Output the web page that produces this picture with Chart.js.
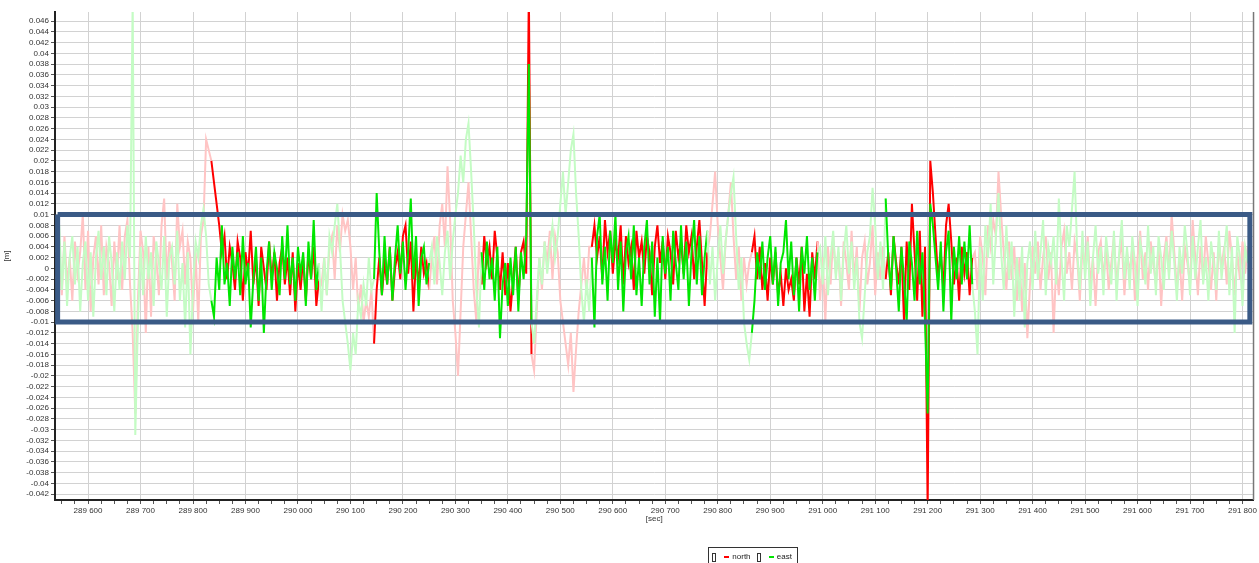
<!DOCTYPE html>
<html>
<head>
<meta charset="utf-8">
<title>north / east</title>
<script src="https://cdn.jsdelivr.net/npm/chart.js@4.4.1/dist/chart.umd.min.js"></script>
<style>
    html, body { margin: 0; padding: 0; background: #fff; }
    #wrap { position: relative; width: 1259px; height: 563px; overflow: hidden; }
    #legend {
        position: absolute; left: 708px; top: 547px; width: 90px; height: 20px;
        border: 1px solid #333; box-sizing: border-box;
        font: 8px "Liberation Sans", Arial, sans-serif; color: #222;
        display: flex; align-items: flex-start; padding: 4px 0 0 2px; gap: 0;
    }
    #legend .chk { display: inline-block; width: 3px; height: 7px; border: 1px solid #333; margin: 1px 8px 0 1px; }
    #legend .dash { display: inline-block; width: 6px; height: 2px; margin: 4px 3px 0 0; }
    #legend .txt { margin-right: 5px; }
</style>
</head>
<body>
<div id="wrap">
    <canvas id="chart" width="1259" height="563"></canvas>
    <div id="legend">
        <span class="chk"></span><span class="dash" style="background:#ff0000"></span><span class="txt">north</span>
        <span class="chk"></span><span class="dash" style="background:#00e600"></span><span class="txt">east</span>
    </div>
</div>
<script>
// time base of the samples [sec]
const sampleStart = 289540;
const sampleStep = 5;

// north component [mm], one value per sample
const northMm = [
    -2, 4, -5, 6, -3, 2, -6, 5, -1, 3, 10, -4, 7, -8, 2, 6, -3, 8, -5, 4,
    1, -7, 5, -2, 8, -4, 6, 9, -3, -12, -27, -6, 7, 3, -12, 4, -9, 6, 2, -5,
    8, 13, -2, 5, 1, -6, 12, 4, 7, -3, 5, 2, -8, 3, -10, 6, 9, 24, 22,
    20, 16, 12, 8, 3, 6, -2, 4, 1, -4, 5, 2, -6, 3, -1, 7, -3, 2, -7, 4,
    0, -4, 5, -2, 3, -6, 1, 4, -3, 2, -5, 3, -8, 1, -4, 2, -6, 3, -2, 4, -7, -2,
    -3, 2, -5, 4, 6, -2, 8, 3, 10, 7, 9, 4, -4, 2, -8, -3, -10, -6, -9, -4,
    -14, -4, 2, -5, 1, -3, 4, -6, 0, 3, -2, 6, 8, -1, 5, -8, 2, -3, 4, -1, 1, -4,
    2, 6, -3, 8, 12, 4, 19, 9, -6, -12, -20, -8, 4, 10, 16, 6, -4, -10,
    5, -3, 6, 1, 4, -2, 7, 2, -4, 3, -5, 1, -8, -2, 4, -6, 3, 5, -1, 52, -16,
    -19, -8, 2, -4, 5, 1, 7, -2, 6, 3, -6, -10, -14, -18, -12, -23, -15, -8, -3, 2, -5, 4,
    4, 8, 2, 6, -2, 9, 3, 7, -1, 5, 2, 8, -3, 6, 1, 4, -4, 7, 2, 5,
    -1, 6, 3, -5, 4, 8, 1, 5, -2, 6, 3, -3, 7, 2, 5, -1, 8, 3, 6, -2, 4, 9, 1, -7, 3,
    6, 12, 18, 8, 2, -4, 5, 10, 16, 6, -2, 4, -6, 2, -3, 1,
    3, 6, -2, 4, -4, 1, -6, 2, -3, 3, -5, -1, -7, 0, -4, -2, -6, 2, -3, 4, -8, -1, -9, 3, -2, 5,
    -6, 2, -10, 4, -3, 6, -1, 3, -7, 5, 1, -4, 7, -2, 4, -8, 2, 5, -3, 1, 8, -5, 3, -2, 4,
    -2, 3, -5, 6, 1, -3, 4, -10, 5, -4, 12, 3, -6, 7, -9, 4,
    -45, 20, 14, 6, -2, 3, -4, 8, 12, 5, -3, 2, -6, 4, -1, 3, -5, 2,
    3, -4, 6, 2, -5, 8, 4, 9, 6, 18, 10, 3, -4, 5, -2, 4, -6, 2, -8, 1,
    -13, -3, 4, -1, 5, -4, 2, 6, -2, 3, -12, 1, -5, 4, 7, -1, 3, -4, 5, 2,
    -6, 4, 0, 6, -3, 2, -7, 3, 5, -2, 4, -4, 1, 6, -3, 2, 5, -5, 3, -1,
    4, -6, 2, 7, -2, 3, -4, 5, 1, -3, 4, -7, 2, 6, -1, 10, 3, -4, 2, -6,
    4, 1, -3, 9, 2, -5, 4, -2, 6, 1, -4, 3, -6, 5, 0, 4, -3, 7, 2, -5,
    3, -2, 5, -1, 4
];

// east component [mm]
const eastMm = [
    3, 8, -4, 5, -7, 2, 6, -3, 4, -8, 1, 5, -6, 3, -9, 2, 7, -2, 4, -5,
    6, 1, -8, 3, -4, 5, -2, 8, 2, 50, -31, -10, 4, -5, 6, -2, 3, -7, 5, 1,
    -4, 6, -9, 2, 4, -3, 7, -6, 1, -11, 3, -16, -4, 5, 2, 8, 11, 6, -3,
    -6, -9, 2, -4, 8, -3, 1, -7, 4, -2, 3, -5, 6, -3, 1, -11, -2, 4, -6, 2,
    -12, -1, 5, -4, 3, 0, -5, 6, -2, 8, -3, 2, -6, 4, -1, 3, -7, 5, -2, 9, -4, 1,
    -8, 2, -5, 6, 3, 8, 12, 4, -6, -10, -14, -19, -12, -16, -6, -9, -3, -7, 2, -4,
    -2, 14, 3, -5, 6, -3, 4, -6, 2, 8, -1, 5, -4, 3, 13, -2, 6, -7, 2, 4, -3, 1,
    4, -3, 6, 1, -5, 3, 7, -2, 5, 10, 14, 21, 16, 24, 27, 18, 8, -4,
    -11, 3, -4, 5, -2, 2, -6, 4, -13, -3, 1, -7, 2, -5, 4, -8, 3, -2, 6, 38, -10,
    -14, -6, 2, -3, 5, -1, 4, 8, 2, 6, 12, 18, 10, 16, 22, 25, 14, 6, -4, -10, -2, -8,
    2, -11, 6, 10, -3, 4, -6, 7, 1, 10, -4, 5, -8, 3, 6, -2, 8, -5, 2, -7,
    4, 9, -3, 5, -9, 2, -10, 6, -1, 4, -6, 7, 1, -4, 8, -2, 5, -7, 3, 9, -3, 6, -5, 2, 7,
    -3, 4, -6, 2, 8, -1, 5, 10, 14, 17, 6, -4, 2, -10, -14, -17,
    -12, -6, 3, -2, 5, -4, 2, 6, -3, 4, -7, 1, 3, 9, -2, 5, -5, 2, -8, 4, -1, 6, -4, 2, -6, 3,
    4, -3, 6, -5, 2, 7, -2, 4, -6, 3, 8, -1, 5, -4, 2, -10, -13, -5, 3, 6, 15, 8, -2, 5, -4,
    13, 2, -4, 6, 0, -8, 4, -2, -10, 5, 1, -6, 7, -3, 3, -10,
    -27, 12, 8, 2, -4, 5, -8, 3, 7, -10, 4, -2, 6, -3, 5, -2, 8, -3,
    -8, -16, 4, -6, 8, 2, 12, -3, 6, 14, 3, -4, 8, -2, 5, -9, 2, -6, 4, -11,
    1, 5, -4, 7, -2, 3, 9, -5, 4, 1, 6, -3, 13, 2, -6, 8, 4, 11, 18, 3,
    -4, 7, -2, 5, -7, 2, 8, -1, 4, -5, 6, 1, -3, 7, -6, 3, 9, -2, 4, -4,
    6, 1, -7, 5, 2, -3, 8, -1, 4, -5, 6, 2, -4, 5, -2, 7, 1, -6, 4, -1,
    8, 3, -5, 6, -2, 4, 9, -3, 2, -6, 5, 1, -4, 7, -2, 3, 8, -5, 4, -12,
    6, 2, -7, 4, 1
];

// time windows drawn in full colour, the rest is faded
const activeRanges = [
    [289835, 290040],
    [290145, 290250],
    [290350, 290445],
    [290560, 290780],
    [290865, 290990],
    [291120, 291285]
];

// tolerance box [sec] / [m]
const boxX = [289542, 291814];
const boxY = [-0.01, 0.01];

// axis ranges
const xRange = [289537, 291821];
const yRange = [-0.0431, 0.0477];

(() => {
    "use strict";

    const toPoints = (values) => values.map((v, i) => ({ x: sampleStart + i * sampleStep, y: v / 1000 }));

    const isActive = (x0, x1) => activeRanges.some(([a, b]) => x0 >= a && x1 <= b);

    const segmentColor = (dark, light) => (ctx) =>
        isActive(ctx.p0.parsed.x, ctx.p1.parsed.x) ? dark : light;

    const boxPoints = [
        { x: boxX[0], y: boxY[1] },
        { x: boxX[1], y: boxY[1] },
        { x: boxX[1], y: boxY[0] },
        { x: boxX[0], y: boxY[0] },
        { x: boxX[0], y: boxY[1] }
    ];

    const formatSec = (v) => String(Math.round(v)).replace(/\B(?=(\d{3})+(?!\d))/g, " ");

    const frame = {
        id: "frame",
        afterDraw(chart) {
            const { ctx, chartArea } = chart;
            ctx.save();
            ctx.strokeStyle = "#777";
            ctx.lineWidth = 1.5;
            ctx.beginPath();
            ctx.moveTo(chartArea.right, chartArea.top);
            ctx.lineTo(chartArea.right, chartArea.bottom);
            ctx.stroke();
            ctx.restore();
        }
    };

    Chart.defaults.font.family = '"Liberation Sans", Arial, sans-serif';
    Chart.defaults.font.size = 8;
    Chart.defaults.color = "#333";

    new Chart(document.getElementById("chart"), {
        type: "line",
        data: {
            datasets: [
                {
                    label: "north",
                    data: toPoints(northMm),
                    borderColor: "#ff0000",
                    segment: { borderColor: segmentColor("#ff0000", "#ffc4c4") },
                    borderWidth: 2,
                    pointRadius: 0,
                    tension: 0,
                    order: 3
                },
                {
                    label: "east",
                    data: toPoints(eastMm),
                    borderColor: "#00e600",
                    segment: { borderColor: segmentColor("#00e600", "#c4fcc4") },
                    borderWidth: 2,
                    pointRadius: 0,
                    tension: 0,
                    order: 2
                },
                {
                    label: "box",
                    data: boxPoints,
                    borderColor: "#3a5a86",
                    borderWidth: 5,
                    borderJoinStyle: "miter",
                    pointRadius: 0,
                    tension: 0,
                    clip: 10,
                    order: 1
                }
            ]
        },
        options: {
            responsive: false,
            animation: false,
            events: [],
            layout: { padding: { left: 0, right: 4, top: 12, bottom: 37 } },
            plugins: {
                legend: { display: false },
                tooltip: { enabled: false }
            },
            scales: {
                x: {
                    type: "linear",
                    min: xRange[0],
                    max: xRange[1],
                    afterFit: (scale) => { scale.height = 26; },
                    border: { color: "#222", width: 2 },
                    grid: {
                        color: (c) => (c.tick && c.tick.value % 100 === 0 ? "#d2d2d2" : "rgba(0,0,0,0)"),
                        tickColor: "#555",
                        tickLength: 4,
                        lineWidth: 1
                    },
                    ticks: {
                        stepSize: 25,
                        includeBounds: false,
                        autoSkip: false,
                        maxRotation: 0,
                        padding: 2,
                        callback: (v) => (v % 100 === 0 ? formatSec(v) : "")
                    },
                    title: { display: true, text: "[sec]", padding: { top: 0, bottom: 2 } }
                },
                y: {
                    min: yRange[0],
                    max: yRange[1],
                    afterFit: (scale) => { scale.width = 55; },
                    border: { color: "#222", width: 2 },
                    grid: { color: "#d2d2d2", tickColor: "#555", tickLength: 4, lineWidth: 1 },
                    ticks: {
                        stepSize: 0.002,
                        includeBounds: false,
                        autoSkip: false,
                        padding: 2,
                        callback: (v) => String(+v.toFixed(3))
                    },
                    title: { display: true, text: "[m]", padding: { top: 2, bottom: 0 } }
                }
            }
        },
        plugins: [frame]
    });
})();
</script>
</body>
</html>
